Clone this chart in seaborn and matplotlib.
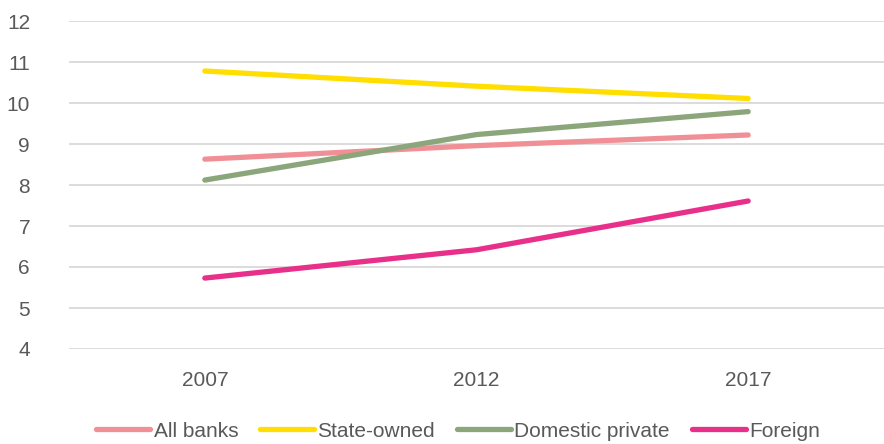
import matplotlib
matplotlib.use("Agg")
import matplotlib.pyplot as plt
import seaborn as sns
import pandas as pd

years = ["2007", "2012", "2017"]
all_banks = [8.63, 8.96, 9.22]
state_owned = [10.78, 10.41, 10.11]
domestic_private = [8.12, 9.23, 9.79]
foreign = [5.73, 6.42, 7.61]

series_names = ["All banks", "State-owned", "Domestic private", "Foreign"]
colors = ["#F09096", "#FFDE00", "#8BA67B", "#E8308A"]

df = pd.DataFrame({
    "year": years * 4,
    "value": all_banks + state_owned + domestic_private + foreign,
    "series": [n for n in series_names for _ in years],
})

sns.set_theme(style="white")
plt.rcParams["font.family"] = ["Liberation Sans", "DejaVu Sans"]
text_color = "#595959"
fs = 15

fig = plt.figure(figsize=(8.84, 4.44), dpi=100)
ax = fig.add_axes([69 / 884, 1 - 349 / 444, 1 - 69 / 884, (349 - 21) / 444])

sns.lineplot(data=df, x="year", y="value", hue="series", palette=colors,
             hue_order=series_names, linewidth=3.8, ax=ax, sort=False,
             solid_capstyle="round")

ax.set_xlim(-0.5, 2.5)
ax.set_ylim(4, 12)
ax.set_yticks(range(4, 13))
ax.yaxis.grid(True, color="#D9D9D9", linewidth=1.3)
ax.xaxis.grid(False)
for s in ax.spines.values():
    s.set_visible(False)
ax.set_xlabel("")
ax.set_ylabel("")
ax.tick_params(axis="y", length=0, pad=28, labelsize=fs, labelcolor=text_color)
ax.tick_params(axis="x", length=0, pad=16, labelsize=fs, labelcolor=text_color)
ax.set_axisbelow(True)

handles, labels = ax.get_legend_handles_labels()
ax.get_legend().remove()
for h in handles:
    h.set_linewidth(3.8)
    h.set_solid_capstyle("round")
leg = fig.legend(handles, labels, loc="center", bbox_to_anchor=(458 / 884, 1 - 431 / 444),
                 ncol=4, frameon=False, fontsize=fs, handlelength=2.6,
                 handletextpad=0.15, columnspacing=1.05, borderpad=0)
for t in leg.get_texts():
    t.set_color(text_color)

fig.savefig("out.png", dpi=100)
